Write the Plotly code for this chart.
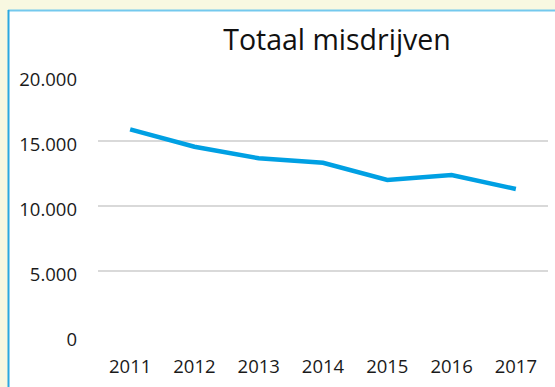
import plotly.graph_objects as go

# Total registered offences per year
years = ["2011", "2012", "2013", "2014", "2015", "2016", "2017"]
misdrijven = [15900, 14560, 13670, 13330, 12000, 12380, 11310]
y_ticks = [0, 5000, 10000, 15000, 20000]

W, H = 555, 387
L, R, T, B = 98, 7, 76, 51
pw, ph = W - L - R, H - T - B

def px_x(x):
    return (x - L) / pw

def px_y(y):
    return (H - B - y) / ph

fig = go.Figure()
fig.add_trace(go.Scatter(
    x=years, y=misdrijven, mode="lines",
    line=dict(color="#00A0E3", width=4.5),
    hoverinfo="x+y",
))

font = "Open Sans, Noto Sans, sans-serif"
page_bg = "#F8F8E1"

fig.update_layout(
    width=W, height=H,
    margin=dict(l=L, r=R, t=T, b=B, pad=0),
    paper_bgcolor="white",
    plot_bgcolor="rgba(0,0,0,0)",
    separators=",.",
    showlegend=False,
    font=dict(family=font, size=18.5, color="#1a1a1a"),
    title=dict(text="Totaal misdrijven", xref="container", yref="container",
               x=337 / W, xanchor="center",
               y=1 - 40 / H, yanchor="middle",
               font=dict(family=font, size=28.5, color="#111111")),
    xaxis=dict(type="category", range=[-0.5, len(years) - 0.5],
               showgrid=False, zeroline=False, showline=False,
               ticks="", ticklabelstandoff=17,
               tickfont=dict(size=18.5)),
    yaxis=dict(range=[0, 20000], tickvals=y_ticks, tickformat=",d",
               showgrid=True, gridcolor="#D9D9D9", gridwidth=1.5,
               zeroline=False, showline=False, ticks="", ticklabelstandoff=20,
               ticklabelshift=4,
               tickfont=dict(size=18.5)),
    shapes=[
        # page background strips to the left of and above the chart frame
        dict(type="rect", xref="paper", yref="paper", layer="below",
             x0=px_x(0), x1=px_x(8), y0=px_y(H), y1=px_y(0),
             fillcolor=page_bg, line=dict(width=0)),
        dict(type="rect", xref="paper", yref="paper", layer="below",
             x0=px_x(0), x1=px_x(W), y0=px_y(10), y1=px_y(0),
             fillcolor=page_bg, line=dict(width=0)),
        # top and left frame border
        dict(type="line", xref="paper", yref="paper", layer="above",
             x0=px_x(8), x1=px_x(W), y0=px_y(10.5), y1=px_y(10.5),
             line=dict(color="#74C9EE", width=2)),
        dict(type="line", xref="paper", yref="paper", layer="above",
             x0=px_x(8.5), x1=px_x(8.5), y0=px_y(10), y1=px_y(H),
             line=dict(color="#2AA8E0", width=2)),
    ],
)

fig.write_html("out.html", config={"displayModeBar": False})
